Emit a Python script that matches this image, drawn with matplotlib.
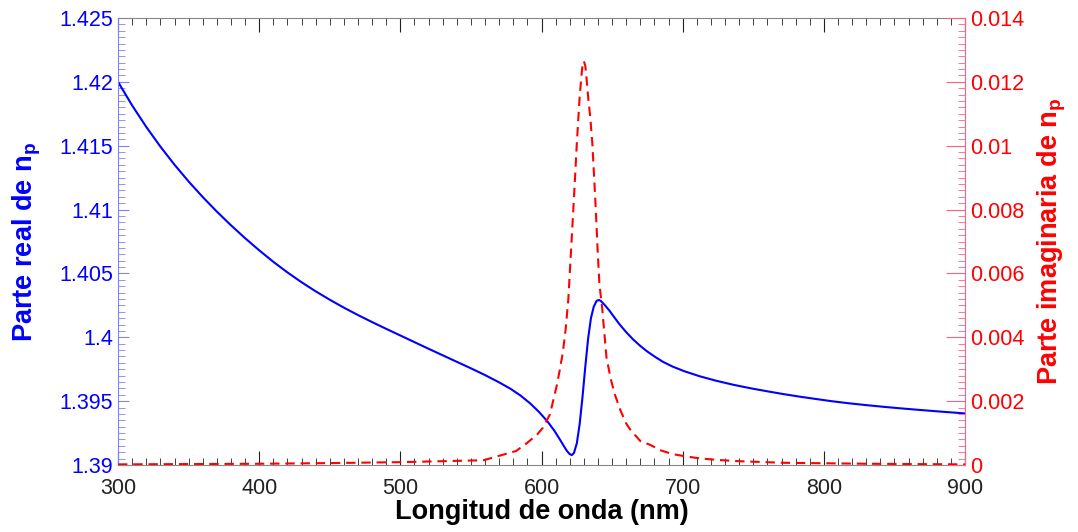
import numpy as np
import matplotlib
matplotlib.use('Agg')
import matplotlib.pyplot as plt
from matplotlib.ticker import MultipleLocator

plt.rcParams['font.family'] = ['Liberation Sans', 'DejaVu Sans']
plt.rcParams['mathtext.fontset'] = 'custom'
plt.rcParams['mathtext.bf'] = 'Liberation Sans:bold'
plt.rcParams['mathtext.rm'] = 'Liberation Sans'

# parte real
wl_re = [300, 310, 320, 330, 340, 350, 360, 370, 380, 390, 400, 410, 420, 430,
         440, 450, 460, 470, 480, 490, 500, 510, 520, 530, 540, 550, 560, 570,
         578, 585, 592, 598, 604, 609, 613, 616, 618, 620, 621.5, 623, 625, 627,
         629, 631, 633, 635, 637, 639, 640.5, 642, 645, 648, 651, 655, 660, 665,
         670, 675, 680, 686, 693, 701, 712, 724, 736, 748, 760, 771, 783, 795,
         806, 818, 830, 842, 854, 866, 883, 900]
n_re = [1.42000, 1.41815, 1.41647, 1.41493, 1.41351, 1.41220, 1.41098, 1.40984,
        1.40877, 1.40776, 1.40681, 1.40591, 1.40508, 1.40431, 1.40360, 1.40294,
        1.40232, 1.40174, 1.40119, 1.40066, 1.40014, 1.39962, 1.39910, 1.39859,
        1.39808, 1.39757, 1.39704, 1.39647, 1.39597, 1.39545, 1.39482, 1.39418,
        1.39344, 1.39270, 1.39200, 1.39145, 1.39110, 1.39085, 1.39078, 1.39095,
        1.39170, 1.39320, 1.39530, 1.39770, 1.39990, 1.40150, 1.40240, 1.40285,
        1.40292, 1.40285, 1.40250, 1.40210, 1.40165, 1.40105, 1.40040, 1.39982,
        1.39932, 1.39888, 1.39850, 1.39808, 1.39770, 1.39735, 1.39695, 1.39659,
        1.39628, 1.39601, 1.39577, 1.39556, 1.39535, 1.39516, 1.39499, 1.39483,
        1.39469, 1.39456, 1.39444, 1.39433, 1.39418, 1.39404]

# parte imaginaria
wl_im = [300, 400, 450, 500, 530, 559, 582, 590, 597, 601, 606, 611, 613, 615,
         617, 619, 620, 621, 623, 625, 627, 628.5, 629, 630, 631, 631.5, 633,
         634.5, 636, 638, 640, 641, 643, 646, 649, 652, 656, 660, 663, 670, 677,
         685, 693, 701, 710, 724, 740, 771, 830, 900]
n_im = [0.00002, 0.00004, 0.00006, 0.00009, 0.00012, 0.00015, 0.00044, 0.0007,
        0.00096, 0.00117, 0.00159, 0.00253, 0.00300, 0.0035, 0.00421, 0.0052,
        0.0060, 0.0068, 0.00839, 0.01007, 0.01153, 0.0123, 0.0125, 0.01265,
        0.0125, 0.0123, 0.01153, 0.0109, 0.01007, 0.00839, 0.0065, 0.00567,
        0.0049, 0.00337, 0.0027, 0.0022, 0.0017, 0.0013, 0.00110, 0.00075,
        0.00063, 0.00045, 0.00034, 0.00028, 0.00022, 0.00016, 0.00012, 0.00007,
        0.00004, 0.00002]

fig = plt.figure(figsize=(10.78, 5.32), dpi=100)
ax = fig.add_axes([0.1095, 0.1259, 0.7857, 0.8403])
ax2 = ax.twinx()

ax.plot(wl_re, n_re, color='#0000ff', lw=1.5)
ax2.plot(wl_im, n_im, color='#ff0000', lw=1.5, ls=(0, (4.5, 2.8)))

ax.set_xlim(300, 900)
ax.set_ylim(1.39, 1.425)
ax2.set_ylim(0, 0.014)

ax.xaxis.set_major_locator(MultipleLocator(100))
ax.xaxis.set_minor_locator(MultipleLocator(10))
ax.yaxis.set_minor_locator(MultipleLocator(0.0005))
ax2.yaxis.set_minor_locator(MultipleLocator(0.0002))

ax.set_yticks(np.arange(1.39, 1.4251, 0.005))
ax.set_yticklabels(['1.39', '1.395', '1.4', '1.405', '1.41', '1.415', '1.42', '1.425'])
ax2.set_yticks(np.arange(0, 0.01401, 0.002))
ax2.set_yticklabels(['0', '0.002', '0.004', '0.006', '0.008', '0.01', '0.012', '0.014'])

ax.tick_params(axis='x', which='both', direction='in', top=True, colors='#222222',
               labelsize=15.5, pad=9)
ax.tick_params(axis='x', which='major', length=10, width=0.8)
ax.tick_params(axis='x', which='minor', length=5, width=0.6)
ax.tick_params(axis='y', which='both', direction='in', color='#8080ff',
               labelcolor='#0000ff', labelsize=15.5)
ax.tick_params(axis='y', which='major', length=8, width=0.8)
ax.tick_params(axis='y', which='minor', length=5, width=0.6)
ax2.tick_params(axis='y', which='both', direction='in', color='#ff6080',
                labelcolor='#ff0000', labelsize=15.5)
ax2.tick_params(axis='y', which='major', length=14, width=0.8)
ax2.tick_params(axis='y', which='minor', length=5, width=0.6)

for s in ['top', 'bottom']:
    ax.spines[s].set_color('#888888')
    ax.spines[s].set_linewidth(0.8)
ax.spines['left'].set_color('#8080ff')
ax.spines['right'].set_visible(False)
ax2.spines['left'].set_visible(False)
ax2.spines['top'].set_visible(False)
ax2.spines['bottom'].set_visible(False)
ax2.spines['right'].set_color('#ff6080')

ax.set_xlabel('Longitud de onda (nm)', fontsize=19.5, fontweight='bold', labelpad=0)
ax.set_ylabel(r'Parte real de n$_\mathbf{p}$', fontsize=19.5, fontweight='bold',
              color='#0000ff', labelpad=12)
ax2.set_ylabel(r'Parte imaginaria de n$_\mathbf{p}$', fontsize=19.5, fontweight='bold',
               color='#ff0000', labelpad=8)

fig.savefig('out.png', dpi=100, facecolor='white')
